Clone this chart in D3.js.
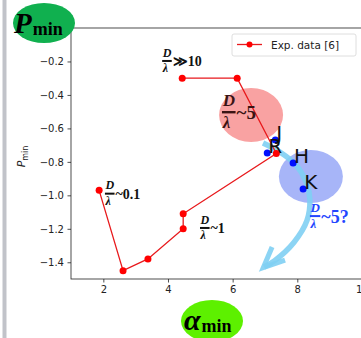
<!DOCTYPE html>
<html>
<head>
<meta charset="utf-8">
<script src="https://cdn.jsdelivr.net/npm/d3@7"></script>
<style>
  body { margin: 0; background: #fff; }
  svg { display: block; }
</style>
</head>
<body>
<script>
// experimental data, in drawing order
const expAlpha = [1.87, 2.61, 3.38, 4.47, 4.47, 7.35, 6.14, 4.44];
const expP = [-0.97, -1.45, -1.38, -1.20, -1.11, -0.75, -0.30, -0.30];

// labelled blue points
const ptNames = ['R', 'J', 'H', 'K'];
const ptAlpha = [7.07, 7.32, 7.87, 8.18];
const ptP = [-0.747, -0.67, -0.807, -0.962];

// D/lambda regime labels
const regSuffix = ['\u226B10', '~0.1', '~1', '~5', '~5?'];
const regAlpha = [3.82, 2.05, 4.99, 5.67, 8.39];
const regP = [-0.197, -0.99, -1.195, -0.502, -1.124];

const xTicks = [2, 4, 6, 8, 10];
const yTicks = [-1.4, -1.2, -1.0, -0.8, -0.6, -0.4, -0.2];

// cyan arrow path
const arrowAlpha = [6.94, 7.46, 7.96, 8.27, 8.39, 8.30, 7.90, 7.30, 6.97];
const arrowP = [-0.687, -0.741, -0.819, -0.92, -1.028, -1.15, -1.28, -1.39, -1.428];

const width = 361;
const height = 338;
const margin = { top: 28, left: 71, bottom: 59 };

const x = d3.scaleLinear().domain([1, 10.4]).range([margin.left, margin.left + 9.4 * 32.33]);
const y = d3.scaleLinear().domain([-1.5, 0]).range([height - margin.bottom, margin.top]);

const svg = d3.select('body').append('svg')
  .attr('width', width)
  .attr('height', height);

// window frame strip on the left
svg.append('rect')
  .attr('x', 2.5).attr('y', 0).attr('width', 4).attr('height', height)
  .attr('fill', '#c1c3c9');

// shaded regions
svg.append('ellipse')
  .attr('cx', x(6.57)).attr('cy', y(-0.52))
  .attr('rx', 32).attr('ry', 27)
  .attr('fill', '#f9a2a2');
svg.append('ellipse')
  .attr('cx', x(8.42)).attr('cy', y(-0.888))
  .attr('rx', 32).attr('ry', 26.5)
  .attr('fill', '#a7b5f8');

// curved cyan arrow
const arrowPts = arrowAlpha.map((a, i) => [x(a), y(arrowP[i])]);
svg.append('path')
  .attr('d', d3.line().curve(d3.curveCatmullRom)(arrowPts))
  .attr('fill', 'none')
  .attr('stroke', '#7fcff3')
  .attr('stroke-width', 5.5)
  .attr('opacity', 0.9);
svg.append('path')
  .attr('d', d3.line()([[x(7.22), y(-1.309)], [x(6.95), y(-1.432)], [x(7.62), y(-1.387)]]))
  .attr('fill', 'none')
  .attr('stroke', '#7fcff3')
  .attr('stroke-width', 5)
  .attr('stroke-linejoin', 'miter')
  .attr('opacity', 0.9);

// axes
const axisFont = 'DejaVu Sans, sans-serif';
const gx = svg.append('g')
  .attr('transform', `translate(0,${y(-1.5)})`)
  .call(d3.axisBottom(x).tickValues(xTicks).tickSize(3.5).tickPadding(3.5).tickFormat(d3.format('d')));
const gy = svg.append('g')
  .attr('transform', `translate(${x(1)},0)`)
  .call(d3.axisLeft(y).tickValues(yTicks).tickSize(3.5).tickPadding(3.5)
    .tickFormat(d => d3.format('.1f')(d).replace('-', '\u2212')));
[gx, gy].forEach(g => {
  g.select('.domain').remove();
  g.selectAll('text').attr('font-family', axisFont).attr('font-size', 10).attr('fill', '#222');
  g.selectAll('line').attr('stroke', '#222').attr('stroke-width', 0.8);
});
svg.append('rect')
  .attr('x', x(1)).attr('y', y(0))
  .attr('width', x(10.4) - x(1)).attr('height', y(-1.5) - y(0))
  .attr('fill', 'none').attr('stroke', '#222').attr('stroke-width', 0.8);

// y axis label
svg.append('text')
  .attr('transform', `translate(25,${(y(0) + y(-1.5)) / 2 + 3}) rotate(-90)`)
  .attr('text-anchor', 'middle')
  .attr('font-family', axisFont)
  .attr('font-size', 11)
  .attr('fill', '#222')
  .html('<tspan font-style="italic">P</tspan><tspan font-size="8" dy="2.5">min</tspan>');

// experimental data
const expPts = expAlpha.map((a, i) => [x(a), y(expP[i])]);
svg.append('path')
  .attr('d', d3.line()(expPts))
  .attr('fill', 'none')
  .attr('stroke', '#e8191c')
  .attr('stroke-width', 1.3);
svg.append('g').selectAll('circle')
  .data(expPts)
  .join('circle')
    .attr('cx', d => d[0]).attr('cy', d => d[1])
    .attr('r', 3.5)
    .attr('fill', '#f00');

// blue labelled points
svg.append('g').selectAll('circle')
  .data(ptNames)
  .join('circle')
    .attr('cx', (d, i) => x(ptAlpha[i]))
    .attr('cy', (d, i) => y(ptP[i]))
    .attr('r', 3.5)
    .attr('fill', '#0010ff');
svg.append('g').selectAll('text')
  .data(ptNames)
  .join('text')
    .attr('x', (d, i) => x(ptAlpha[i]) + 1)
    .attr('y', (d, i) => y(ptP[i]))
    .attr('font-family', axisFont)
    .attr('font-size', 20)
    .attr('fill', '#111')
    .text(d => d);

// D / lambda labels
const serif = 'Liberation Serif, serif';
const fracSize = [12, 12, 12, 17, 13];
const sufSize = [14, 14, 14, 19, 18];
const regColor = ['#111', '#111', '#111', '#3a1414', '#2346ff'];
regSuffix.forEach((s, i) => {
  const g = svg.append('g')
    .attr('transform', `translate(${x(regAlpha[i])},${y(regP[i])})`)
    .attr('fill', regColor[i])
    .attr('font-family', serif)
    .attr('font-weight', 'bold');
  const f = fracSize[i];
  g.append('text').attr('x', f * 0.05).attr('y', -f * 0.35)
    .attr('font-size', f).attr('font-style', 'italic').text('D');
  g.append('rect').attr('x', 0).attr('y', -1).attr('width', f * 0.8).attr('height', f > 14 ? 2.4 : 2);
  g.append('text').attr('x', f * 0.05).attr('y', f * 0.95)
    .attr('font-size', f).attr('font-style', 'italic').text('\u03BB');
  g.append('text').attr('x', f * 0.8 + 1).attr('y', sufSize[i] * 0.38)
    .attr('font-size', sufSize[i]).text(s);
});

// legend
const lg = svg.append('g').attr('transform', 'translate(232,34)');
lg.append('rect')
  .attr('width', 124).attr('height', 22).attr('rx', 2)
  .attr('fill', '#fff').attr('fill-opacity', 0.8)
  .attr('stroke', '#d5d5d5').attr('stroke-width', 0.8);
lg.append('line')
  .attr('x1', 5).attr('x2', 30).attr('y1', 10.5).attr('y2', 10.5)
  .attr('stroke', '#e8191c').attr('stroke-width', 1.3);
lg.append('circle').attr('cx', 17.5).attr('cy', 10.5).attr('r', 3).attr('fill', '#f00');
lg.append('text')
  .attr('x', 39).attr('y', 14.5)
  .attr('font-family', axisFont).attr('font-size', 10.5).attr('fill', '#222')
  .text('Exp. data [6]');

// big corner axis tags
svg.append('ellipse')
  .attr('cx', 44).attr('cy', 23).attr('rx', 31).attr('ry', 20)
  .attr('fill', '#10b04f');
svg.append('text')
  .attr('x', 14).attr('y', 33)
  .attr('font-family', serif).attr('font-weight', 'bold').attr('fill', '#000')
  .html('<tspan font-size="29" font-style="italic">P</tspan><tspan font-size="18" dx="1" dy="2">min</tspan>');

svg.append('ellipse')
  .attr('cx', 212).attr('cy', 321).attr('rx', 31).attr('ry', 21)
  .attr('fill', '#5df000');
svg.append('text')
  .attr('x', 184).attr('y', 330)
  .attr('font-family', serif).attr('font-weight', 'bold').attr('fill', '#000')
  .html('<tspan font-size="30" font-style="italic">\u03B1</tspan><tspan font-size="18" dx="1" dy="2">min</tspan>');
</script>
</body>
</html>
